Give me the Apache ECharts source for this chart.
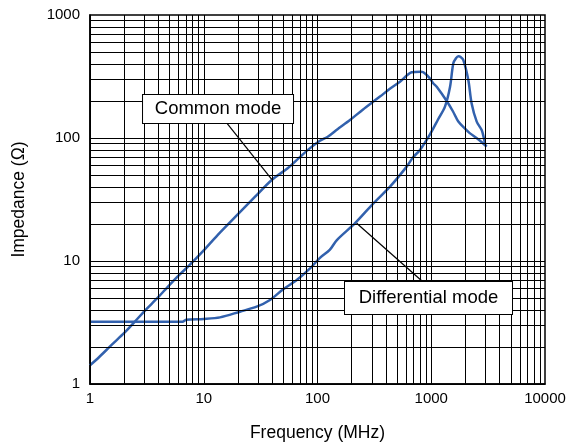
<!DOCTYPE html>
<html><head><meta charset="utf-8">
<script src="https://cdn.jsdelivr.net/npm/echarts@6/dist/echarts.min.js"></script>
<style>html,body{margin:0;padding:0;background:#fff}#c{width:571px;height:444px}</style>
</head><body><div id="c"></div>
<script>
var commonFreq = [1, 1.2, 1.54, 2.0, 2.47, 3.0, 4.0, 4.85, 6.0, 7.27, 10, 13.3, 20, 28, 39.6, 55, 70, 85, 105, 124, 150, 193, 250, 354, 430, 531, 673, 800, 852, 960, 1040, 1117, 1367, 1550, 1730, 2000, 2193, 2500, 2800, 3073];
var commonZ    = [1.42, 1.65, 2.07, 2.6, 3.2, 3.9, 5.1, 6.2, 7.6, 9.0, 12.2, 16.3, 24, 33, 45.6, 57, 70, 82, 95, 103, 118, 140, 170, 217, 250, 287, 342, 346, 342, 310, 279, 261, 200, 165, 136, 118, 109, 100, 92, 85];
var diffFreq = [1, 2, 4, 6.5, 7, 10, 13.9, 20.8, 29.2, 38.2, 50, 65.7, 86, 105, 128, 148, 214, 310, 434, 608, 695, 796, 975, 1150, 1320, 1462, 1563, 1650, 1730, 1800, 1915, 2118, 2265, 2510, 2775, 2900, 3000];
var diffZ    = [3.2, 3.2, 3.2, 3.2, 3.33, 3.38, 3.48, 3.87, 4.25, 4.82, 5.9, 7.0, 8.7, 10.6, 12.3, 14.8, 20.3, 29.4, 40.2, 58.5, 70, 80, 107, 142, 180, 260, 405, 445, 462, 458, 430, 296, 191, 136, 116, 100, 86];
var xTicks = [1, 10, 100, 1000, 10000];
var yTicks = [1, 10, 100, 1000];
var labels = ['Common mode', 'Differential mode'];
var xTitle = 'Frequency (MHz)';
var yTitle = 'Impedance (\u03A9)';

function pairs(a, b) { return a.map(function (v, i) { return [v, b[i]]; }); }

var gridLines = [];
xTicks.slice(0, -1).forEach(function (d) { for (var k = 1; k <= 9; k++) gridLines.push({ xAxis: d * k }); });
yTicks.slice(0, -1).forEach(function (d) { for (var k = 1; k <= 9; k++) gridLines.push({ yAxis: d * k }); });

var FONT = 'Liberation Sans, Arial, sans-serif';
var blue = '#3261ad';

function boxLabel(text, w, h) {
  return { show: true, position: 'inside', formatter: text, color: '#000', fontFamily: FONT, fontSize: 18.5,
    backgroundColor: '#fff', borderColor: '#000', borderWidth: 1, padding: 0,
    width: w, height: h, lineHeight: h, align: 'center', verticalAlign: 'middle' };
}

var chart = echarts.init(document.getElementById('c'));
chart.setOption({
  animation: false,
  backgroundColor: '#fff',
  grid: { left: 90, top: 15, right: 26, bottom: 60, show: true, borderColor: '#000', borderWidth: 1.5,
    containLabel: false, outerBoundsMode: 'none' },
  xAxis: {
    type: 'log', logBase: 10, min: 1, max: 10000,
    name: xTitle, nameLocation: 'middle', nameGap: 40,
    nameTextStyle: { fontFamily: FONT, fontSize: 17.5, color: '#000' },
    axisLine: { lineStyle: { color: '#000', width: 1.5 } },
    axisTick: { show: false },
    axisLabel: { fontFamily: FONT, fontSize: 15, color: '#000', margin: 7, formatter: function (v) { return String(Math.round(v)); } },
    splitLine: { show: false }, minorSplitLine: { show: false }
  },
  yAxis: {
    type: 'log', logBase: 10, min: 1, max: 1000,
    name: yTitle, nameLocation: 'middle', nameGap: 62, nameRotate: 90,
    nameTextStyle: { fontFamily: FONT, fontSize: 17.5, color: '#000' },
    axisLine: { lineStyle: { color: '#000', width: 1.5 } },
    axisTick: { show: false },
    axisLabel: { fontFamily: FONT, fontSize: 15, color: '#000', margin: 10, formatter: function (v) { return String(Math.round(v)); } },
    splitLine: { show: false }, minorSplitLine: { show: false }
  },
  series: [
    {
      type: 'line', data: [], z: 1, silent: true,
      markLine: { silent: true, symbol: 'none', animation: false,
        lineStyle: { color: '#000', width: 1, type: 'solid' },
        label: { show: false }, emphasis: { disabled: true },
        data: gridLines }
    },
    {
      type: 'line', data: pairs(commonFreq, commonZ), z: 3, showSymbol: false, smooth: 0.3,
      lineStyle: { color: blue, width: 2.5 }, itemStyle: { color: blue }
    },
    {
      type: 'line', data: pairs(diffFreq, diffZ), z: 3, showSymbol: false, smooth: 0.3,
      lineStyle: { color: blue, width: 2.5 }, itemStyle: { color: blue }
    },
    {
      type: 'line', data: [], z: 4, silent: true,
      markLine: { silent: true, symbol: 'none', animation: false,
        lineStyle: { color: '#000', width: 1.2, type: 'solid' },
        label: { show: false }, emphasis: { disabled: true },
        data: [
          [{ coord: [15.9, 133] }, { coord: [39.6, 46] }],
          [{ coord: [221, 20.3] }, { coord: [824, 6.9] }]
        ] },
      markPoint: { silent: true, animation: false,
        data: [
          { coord: [13.35, 172], symbol: 'circle', symbolSize: 1, itemStyle: { color: 'rgba(0,0,0,0)' },
            label: boxLabel(labels[0], 150, 28) },
          { coord: [946, 5.0], symbol: 'circle', symbolSize: 1, itemStyle: { color: 'rgba(0,0,0,0)' },
            label: boxLabel(labels[1], 167, 32) }
        ] }
    }
  ]
});
</script></body></html>
